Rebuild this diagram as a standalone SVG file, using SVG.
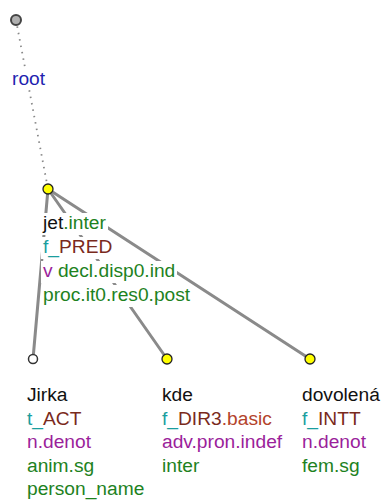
<svg xmlns="http://www.w3.org/2000/svg" width="386" height="500" viewBox="0 0 386 500">
<style>
text{font-family:"Liberation Sans",Arial,sans-serif;font-size:19.2px}
.bg{fill:#fff}
.edge{stroke:#8a8a8a;stroke-width:3;fill:none;stroke-linecap:round}
.dot{stroke:#888;stroke-width:1.8;fill:none;stroke-dasharray:1.5 5}
.k{fill:#111}
.g{fill:#1e821e}
.t{fill:#1a9e9e}
.b{fill:#7a2a1c}
.r{fill:#b3432b}
.p{fill:#9b1f9b}
.bl{fill:#1f1fb0}
.ny{fill:#ffff00;stroke:#222;stroke-width:1.3}
.nw{fill:#fff;stroke:#333;stroke-width:1.5}
.ng{fill:#b0b0b0;stroke:#444;stroke-width:2}
</style>
<g id="connectors">
<line class="dot" x1="16" y1="20" x2="48" y2="189"/>
<line class="edge" x1="48" y1="189" x2="33" y2="359"/>
<line class="edge" x1="48" y1="189" x2="167" y2="359"/>
<line class="edge" x1="48" y1="189" x2="310" y2="359"/>
</g>
<g id="root">
<circle class="ng" cx="16" cy="20" r="5"/>
<rect class="bg" x="10" y="69" width="36" height="21"/>
<text x="12" y="85" class="bl">root</text>
</g>
<g id="jet">
<circle class="ny" cx="48" cy="189" r="5"/>
<rect class="bg" x="41" y="213" width="67" height="22"/>
<rect class="bg" x="41" y="237" width="72" height="22"/>
<rect class="bg" x="41" y="261" width="136" height="22"/>
<rect class="bg" x="41" y="285" width="151" height="22"/>
<text x="43" y="229"><tspan class="k">jet</tspan><tspan class="g">.inter</tspan></text>
<text x="43" y="253"><tspan class="t">f_</tspan><tspan class="b">PRED</tspan></text>
<text x="43" y="277"><tspan class="p">v</tspan><tspan class="g"> decl.disp0.ind</tspan></text>
<text x="43" y="301" class="g">proc.it0.res0.post</text>
</g>
<g id="jirka">
<circle class="nw" cx="33" cy="359" r="4.5"/>
<text x="27" y="401" class="k">Jirka</text>
<text x="27" y="424.5"><tspan class="t">t_</tspan><tspan class="b">ACT</tspan></text>
<text x="27" y="448" class="p">n.denot</text>
<text x="27" y="471.5" class="g">anim.sg</text>
<text x="27" y="495" class="g">person_name</text>
</g>
<g id="kde">
<circle class="ny" cx="167" cy="359" r="5"/>
<text x="162" y="401" class="k">kde</text>
<text x="162" y="424.5"><tspan class="t">f_</tspan><tspan class="b">DIR3</tspan><tspan class="r">.basic</tspan></text>
<text x="162" y="448" class="p">adv.pron.indef</text>
<text x="162" y="471.5" class="g">inter</text>
</g>
<g id="dovolena">
<circle class="ny" cx="310" cy="359" r="5"/>
<text x="302" y="401" class="k">dovolená</text>
<text x="302" y="424.5"><tspan class="t">f_</tspan><tspan class="b">INTT</tspan></text>
<text x="302" y="448" class="p">n.denot</text>
<text x="302" y="471.5" class="g">fem.sg</text>
</g>
</svg>
